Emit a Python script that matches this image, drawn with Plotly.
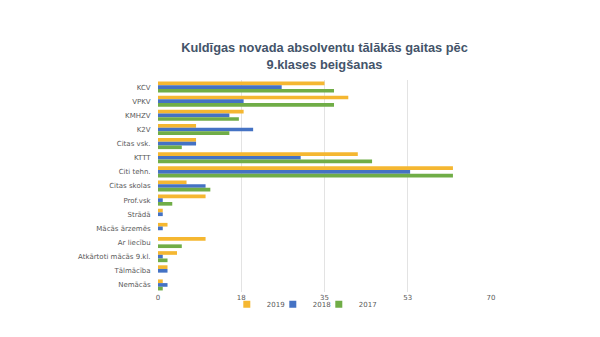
import plotly.graph_objects as go

# Categories listed top to bottom
categories = ["KCV", "VPKV", "KMHZV", "K2V", "Citas vsk.", "KTTT", "Citi tehn.",
              "Citas skolas", "Prof.vsk", "Strādā", "Mācās ārzemēs", "Ar liecību",
              "Atkārtoti mācās 9.kl.", "Tālmācība", "Nemācās"]
v2019 = [35, 40, 18, 8, 8, 42, 62, 6, 10, 1, 2, 10, 4, 2, 1]
v2018 = [26, 18, 15, 20, 8, 30, 53, 10, 1, 1, 1, 0, 1, 2, 2]
v2017 = [37, 37, 17, 15, 5, 45, 62, 11, 3, 0, 0, 5, 2, 0, 1]

tick_vals = [0, 17.5, 35, 52.5, 70]
tick_text = ["0", "18", "35", "53", "70"]

series = [("2019", v2019, "#f5b731"), ("2018", v2018, "#4472c4"), ("2017", v2017, "#70ad47")]

fig = go.Figure()
for name, vals, color in series:
    fig.add_trace(go.Bar(
        y=categories, x=vals, name=name, orientation="h",
        marker=dict(color=color, line=dict(width=0)),
        legendgroup=name, showlegend=False,
    ))
# Compact square legend keys
for name, vals, color in series:
    fig.add_trace(go.Scatter(
        x=[None], y=[None], mode="markers", name=name, legendgroup=name,
        marker=dict(symbol="square", size=7, color=color),
    ))
# Blank trailing slot so the last legend label is not clipped
fig.add_trace(go.Scatter(
    x=[None], y=[None], mode="markers", name="\u00a0",
    marker=dict(symbol="square", size=7, color="rgba(0,0,0,0)"),
    hoverinfo="skip",
))

fig.update_layout(
    width=600, height=337,
    paper_bgcolor="white", plot_bgcolor="white",
    barmode="group", bargap=0.22, bargroupgap=0,
    margin=dict(l=158, r=109, t=80, b=45, autoexpand=False),
    font=dict(family="DejaVu Sans", size=7, color="#595959"),
    title=dict(
        text="<b>Kuldīgas novada absolventu tālākās gaitas pēc<br>9.klases beigšanas</b>",
        x=0.5, xref="paper", xanchor="center",
        y=0.845, yref="container", yanchor="top",
        font=dict(family="Liberation Sans", size=12.8, color="#44546a"),
    ),
    xaxis=dict(
        range=[0, 70], tickvals=tick_vals, ticktext=tick_text,
        showgrid=True, gridcolor="#e3e3e3", gridwidth=1,
        zeroline=False, showline=False, ticks="",
        tickfont=dict(size=7, color="#595959"),
    ),
    yaxis=dict(
        autorange="reversed", showgrid=False, zeroline=False, showline=False,
        ticks="outside", ticklen=5, tickcolor="rgba(0,0,0,0)",
        tickfont=dict(size=7, color="#595959"),
    ),
    legend=dict(
        orientation="h", x=0.378, xref="container", xanchor="left",
        y=0.097, yref="container", yanchor="middle",
        bgcolor="rgba(0,0,0,0)",
        font=dict(size=7, color="#595959"),
        itemwidth=30, entrywidth=1, entrywidthmode="pixels",
        traceorder="normal",
    ),
)

fig.write_html("out.html")
